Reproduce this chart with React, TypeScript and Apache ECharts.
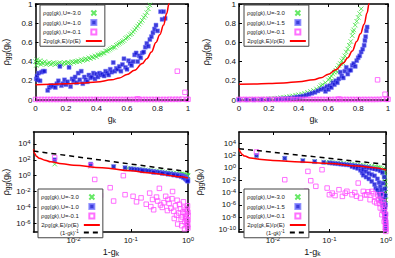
import React, { useEffect, useRef } from "react";
import * as echarts from "echarts";

const FONT = "'Liberation Sans', Arial, sans-serif";

// ---------- tick values ----------
const linTicks = [0, 0.2, 0.4, 0.6, 0.8, 1];
const logXTicks = [-2, -1, 0];
const logY3Ticks = [-6, -4, -2, 0, 2, 4];
const logY4Ticks = [-10, -8, -6, -4, -2, 0, 2, 4];

// ---------- legend U values ----------
const uLeft = ["-3.0", "-1.0", "-0.1"];
const uRight = ["-3.0", "-1.5", "-0.1"];

// ---------- panel 1 (g_k, rho) ----------
const p1Green = [[0.0,0.40],[0.005,0.36],[0.01,0.42],[0.015,0.38],[0.02,0.39],[0.03,0.41],[0.035,0.37],[0.04,0.39],[0.05,0.38],[0.06,0.40],[0.07,0.37],[0.08,0.38],[0.09,0.39],[0.10,0.37],[0.11,0.38],[0.12,0.39],[0.13,0.37],[0.14,0.38],[0.15,0.38],[0.16,0.39],[0.17,0.37],[0.18,0.38],[0.19,0.39],[0.20,0.38],[0.21,0.39],[0.22,0.39],[0.23,0.38],[0.24,0.40],[0.25,0.39],[0.26,0.40],[0.27,0.40],[0.28,0.41],[0.29,0.40],[0.30,0.42],[0.31,0.41],[0.32,0.42],[0.33,0.43],[0.34,0.42],[0.35,0.44],[0.36,0.43],[0.37,0.45],[0.38,0.44],[0.39,0.46],[0.40,0.45],[0.41,0.47],[0.42,0.47],[0.43,0.48],[0.44,0.49],[0.45,0.49],[0.46,0.51],[0.47,0.51],[0.48,0.52],[0.49,0.53],[0.50,0.54],[0.51,0.55],[0.52,0.55],[0.53,0.57],[0.54,0.58],[0.55,0.59],[0.56,0.60],[0.57,0.61],[0.58,0.62],[0.59,0.64],[0.60,0.65],[0.61,0.66],[0.62,0.68],[0.63,0.69],[0.64,0.71],[0.65,0.73],[0.66,0.75],[0.67,0.77],[0.68,0.79],[0.69,0.81],[0.70,0.83],[0.71,0.86],[0.72,0.88],[0.73,0.91],[0.74,0.95],[0.75,0.99]];
const p1Blue = [[0.005,0.22],[0.01,0.25],[0.015,0.21],[0.02,0.28],[0.03,0.20],[0.04,0.29],[0.05,0.30],[0.06,0.30],[0.08,0.10],[0.09,0.13],[0.10,0.15],[0.11,0.14],[0.12,0.15],[0.13,0.13],[0.14,0.17],[0.15,0.20],[0.16,0.35],[0.17,0.15],[0.18,0.17],[0.19,0.21],[0.20,0.16],[0.21,0.19],[0.22,0.34],[0.23,0.14],[0.24,0.22],[0.25,0.20],[0.26,0.24],[0.27,0.18],[0.28,0.28],[0.29,0.21],[0.30,0.30],[0.31,0.17],[0.32,0.24],[0.33,0.21],[0.34,0.19],[0.35,0.26],[0.36,0.23],[0.37,0.24],[0.38,0.28],[0.39,0.22],[0.40,0.27],[0.41,0.24],[0.42,0.28],[0.43,0.26],[0.44,0.27],[0.45,0.25],[0.46,0.30],[0.47,0.28],[0.48,0.26],[0.49,0.32],[0.50,0.29],[0.51,0.39],[0.52,0.30],[0.53,0.33],[0.54,0.32],[0.55,0.35],[0.56,0.30],[0.57,0.37],[0.58,0.43],[0.59,0.34],[0.60,0.32],[0.61,0.41],[0.62,0.38],[0.63,0.36],[0.64,0.40],[0.65,0.47],[0.66,0.49],[0.67,0.40],[0.68,0.46],[0.69,0.44],[0.70,0.49],[0.71,0.50],[0.72,0.55],[0.73,0.59],[0.74,0.56],[0.75,0.63],[0.76,0.66],[0.77,0.70],[0.78,0.74],[0.79,0.78],[0.80,0.72],[0.82,0.92],[0.83,0.84],[0.84,0.92],[0.85,0.85]];
const p1Magenta = [[0.00,0.006],[0.02,0.005],[0.04,0.006],[0.06,0.005],[0.08,0.006],[0.10,0.005],[0.12,0.006],[0.14,0.005],[0.16,0.006],[0.18,0.005],[0.20,0.006],[0.22,0.005],[0.24,0.006],[0.26,0.005],[0.28,0.006],[0.30,0.005],[0.32,0.006],[0.34,0.005],[0.36,0.006],[0.38,0.005],[0.40,0.006],[0.42,0.005],[0.44,0.006],[0.46,0.005],[0.48,0.006],[0.50,0.005],[0.52,0.006],[0.54,0.005],[0.56,0.006],[0.58,0.005],[0.60,0.006],[0.62,0.005],[0.64,0.006],[0.66,0.005],[0.67,0.012],[0.68,0.006],[0.70,0.005],[0.72,0.006],[0.74,0.005],[0.76,0.006],[0.78,0.005],[0.80,0.006],[0.82,0.005],[0.84,0.006],[0.86,0.005],[0.88,0.007],[0.90,0.006],[0.92,0.007],[0.93,0.30],[0.94,0.006],[0.96,0.008],[0.98,0.08],[0.99,0.006],[1.0,0.007]];
const p1Red = [[0,0.16],[0.1,0.163],[0.2,0.168],[0.3,0.176],[0.4,0.188],[0.5,0.21],[0.55,0.23],[0.6,0.265],[0.65,0.31],[0.7,0.38],[0.73,0.43],[0.76,0.5],[0.79,0.6],[0.815,0.68],[0.84,0.78],[0.86,0.9],[0.875,1.0],[0.885,1.1]];

// ---------- panel 2 (g_k, rho) ----------
const p2Green = [[0.00,0.002],[0.03,0.003],[0.06,0.004],[0.09,0.005],[0.12,0.006],[0.15,0.008],[0.18,0.010],[0.20,0.012],[0.22,0.014],[0.24,0.017],[0.26,0.020],[0.28,0.024],[0.30,0.028],[0.32,0.032],[0.34,0.037],[0.36,0.042],[0.38,0.050],[0.40,0.055],[0.42,0.062],[0.44,0.070],[0.46,0.080],[0.48,0.090],[0.50,0.10],[0.52,0.115],[0.54,0.13],[0.55,0.15],[0.56,0.16],[0.58,0.18],[0.60,0.21],[0.61,0.23],[0.62,0.25],[0.62,0.20],[0.63,0.27],[0.64,0.29],[0.65,0.31],[0.66,0.33],[0.66,0.29],[0.67,0.36],[0.68,0.38],[0.69,0.41],[0.70,0.43],[0.70,0.38],[0.71,0.46],[0.72,0.50],[0.73,0.53],[0.74,0.57],[0.75,0.61],[0.76,0.67],[0.765,0.71],[0.77,0.73],[0.78,0.78],[0.79,0.82],[0.80,0.86],[0.81,0.90],[0.82,0.95]];
const p2Blue = [[0.00,0.001],[0.05,0.002],[0.10,0.003],[0.15,0.004],[0.20,0.006],[0.25,0.009],[0.28,0.012],[0.31,0.015],[0.34,0.020],[0.37,0.025],[0.39,0.030],[0.41,0.035],[0.43,0.040],[0.45,0.050],[0.47,0.060],[0.49,0.070],[0.51,0.080],[0.53,0.095],[0.55,0.11],[0.57,0.12],[0.58,0.09],[0.59,0.14],[0.60,0.11],[0.61,0.15],[0.62,0.13],[0.63,0.18],[0.64,0.16],[0.65,0.20],[0.66,0.18],[0.67,0.22],[0.68,0.29],[0.69,0.25],[0.70,0.23],[0.71,0.30],[0.72,0.34],[0.73,0.27],[0.74,0.31],[0.75,0.31],[0.76,0.36],[0.77,0.38],[0.78,0.35],[0.79,0.41],[0.80,0.44],[0.81,0.46],[0.82,0.50],[0.83,0.53],[0.84,0.57],[0.845,0.62],[0.85,0.66],[0.855,0.72],[0.86,0.76]];
const p2Magenta = [[0.00,0.006],[0.02,0.005],[0.04,0.006],[0.06,0.005],[0.08,0.006],[0.10,0.005],[0.12,0.006],[0.14,0.005],[0.16,0.006],[0.18,0.005],[0.20,0.006],[0.22,0.005],[0.24,0.006],[0.26,0.005],[0.28,0.006],[0.30,0.005],[0.32,0.006],[0.34,0.005],[0.36,0.006],[0.38,0.005],[0.40,0.006],[0.42,0.005],[0.44,0.006],[0.46,0.005],[0.48,0.006],[0.50,0.005],[0.52,0.006],[0.54,0.005],[0.56,0.006],[0.58,0.005],[0.60,0.006],[0.62,0.005],[0.64,0.006],[0.66,0.005],[0.67,0.010],[0.68,0.006],[0.70,0.005],[0.72,0.006],[0.74,0.005],[0.76,0.006],[0.78,0.005],[0.80,0.006],[0.82,0.005],[0.84,0.006],[0.86,0.005],[0.88,0.006],[0.90,0.005],[0.92,0.006],[0.93,0.21],[0.94,0.006],[0.96,0.007],[0.98,0.06],[0.99,0.006],[1.0,0.007]];
const p2Red = [[0,0.165],[0.1,0.167],[0.2,0.171],[0.3,0.178],[0.4,0.19],[0.5,0.212],[0.55,0.232],[0.6,0.268],[0.65,0.315],[0.7,0.385],[0.73,0.44],[0.76,0.51],[0.79,0.61],[0.815,0.69],[0.84,0.79],[0.86,0.91],[0.872,1.0],[0.882,1.1]];

// ---------- panel 3 (log10(1-g_k), log10 rho) ----------
const p3Green = [[-2.33,1.45],[-1.70,1.2],[-1.30,1.1],[-1.1,0.97],[-1.05,0.94],[-1.0,0.9],[-0.95,0.87],[-0.9,0.84],[-0.85,0.8],[-0.8,0.77],[-0.75,0.73],[-0.7,0.69],[-0.65,0.65],[-0.6,0.61],[-0.55,0.57],[-0.5,0.53],[-0.45,0.49],[-0.4,0.45],[-0.35,0.41],[-0.3,0.37],[-0.25,0.33],[-0.2,0.29],[-0.15,0.24],[-0.12,0.21],[-0.1,0.19],[-0.08,0.16],[-0.06,0.13],[-0.04,0.1],[-0.03,0.07],[-0.02,0.05],[-0.01,0.02],[-0.005,0.0],[0,-0.05],[-0.7,0.62],[-0.5,0.46],[-0.3,0.3],[-0.15,0.17],[-0.05,0.05]];
const p3Blue = [[-2.33,2.0],[-1.70,1.45],[-1.30,1.15],[-1.1,1.0],[-1.0,0.86],[-0.95,0.82],[-0.9,0.78],[-0.85,0.74],[-0.8,0.7],[-0.75,0.66],[-0.7,0.6],[-0.65,0.56],[-0.6,0.52],[-0.55,0.47],[-0.5,0.42],[-0.45,0.38],[-0.4,0.33],[-0.35,0.28],[-0.3,0.23],[-0.25,0.18],[-0.2,0.13],[-0.15,0.07],[-0.12,0.02],[-0.1,-0.02],[-0.08,-0.08],[-0.06,-0.15],[-0.05,-0.2],[-0.04,-0.26],[-0.03,-0.33],[-0.02,-0.42],[-0.01,-0.52],[0,-0.62],[-0.8,0.6],[-0.6,0.4],[-0.45,0.28],[-0.35,0.18],[-0.25,0.07],[-0.18,-0.02],[-0.12,-0.12],[-0.08,-0.25],[-0.05,-0.38],[-0.03,-0.5],[-0.015,-0.62],[-0.005,-0.7]];
const p3Magenta = [[-2.33,2.28],[-1.70,1.28],[-1.63,-0.48],[-1.13,0.0],[-1.53,-2.48],[-1.36,-1.52],[-1.30,-3.2],[-1.10,-2.4],[-0.96,-2.6],[-0.90,-3.3],[-0.82,-2.8],[-0.73,-3.6],[-0.67,-2.2],[-0.65,-3.9],[-0.62,-3.0],[-0.53,-3.2],[-0.50,-1.6],[-0.45,-4.0],[-0.39,-2.6],[-0.36,-4.4],[-0.33,-3.5],[-0.27,-2.0],[-0.25,-4.5],[-0.22,-3.8],[-0.19,-3.1],[-0.16,-4.7],[-0.13,-4.2],[-0.10,-5.2],[-0.07,-4.0],[-0.06,-5.8],[-0.05,-4.8],[-0.03,-5.4],[-0.02,-6.0],[-0.01,-4.4],[-0.005,-6.2],[0,-5.0],[0,-5.6],[-0.42,-3.4],[-0.30,-4.1],[-0.28,-2.9],[-0.20,-5.0],[-0.15,-3.6],[-0.12,-5.5],[-0.09,-4.6],[-0.08,-3.3],[-0.04,-5.1],[-0.03,-4.2],[-0.015,-5.7],[-0.01,-6.4],[-0.008,-3.8],[-0.003,-4.6],[-0.002,-6.6],[-0.6,-4.3],[-0.55,-2.7],[-0.48,-3.7],[-0.35,-3.0],[-0.24,-5.4],[-0.18,-6.1],[-0.11,-6.3],[-0.06,-6.7]];
const p3Red = [[-2.7,3.3],[-2.68,2.8],[-2.65,2.45],[-2.6,2.2],[-2.5,1.95],[-2.4,1.75],[-2.2,1.5],[-2.0,1.3],[-1.5,1.0],[-1.0,0.62],[-0.7,0.38],[-0.5,0.2],[-0.3,0.0],[-0.15,-0.15],[0,-0.3]];
const p3Dash = [[-2.7,3.1],[0,0.5]];

// ---------- panel 4 (log10(1-g_k), log10 rho) ----------
const p4Green = [[-2.29,1.8],[-1.79,1.5],[-1.47,1.2],[-1.26,1.05],[-1.1,0.95],[-1.05,0.92],[-1.0,0.9],[-0.95,0.86],[-0.9,0.82],[-0.85,0.78],[-0.8,0.74],[-0.75,0.7],[-0.7,0.66],[-0.65,0.62],[-0.6,0.57],[-0.55,0.53],[-0.5,0.48],[-0.45,0.44],[-0.4,0.39],[-0.35,0.34],[-0.3,0.29],[-0.25,0.24],[-0.2,0.18],[-0.17,0.13],[-0.14,0.08],[-0.12,0.03],[-0.1,-0.03],[-0.08,-0.12],[-0.06,-0.25],[-0.05,-0.4],[-0.04,-0.6],[-0.03,-0.9],[-0.025,-1.3],[-0.02,-1.7],[-0.015,-2.3],[-0.012,-2.9],[-0.01,-3.4],[-0.007,-4.0],[-0.005,-4.6],[-0.003,-5.2]];
const p4Blue = [[-2.29,2.0],[-1.79,1.55],[-1.47,1.15],[-1.26,1.0],[-1.1,0.88],[-1.0,0.8],[-0.95,0.76],[-0.9,0.7],[-0.85,0.66],[-0.8,0.6],[-0.75,0.56],[-0.7,0.5],[-0.65,0.46],[-0.6,0.4],[-0.6,0.2],[-0.55,0.34],[-0.55,0.05],[-0.5,0.28],[-0.5,-0.1],[-0.45,0.22],[-0.45,-0.4],[-0.42,-0.8],[-0.4,0.15],[-0.4,-0.3],[-0.4,-1.2],[-0.35,0.08],[-0.35,-0.6],[-0.35,-1.5],[-0.3,0.0],[-0.3,-0.9],[-0.3,-1.8],[-0.25,-0.1],[-0.25,-1.1],[-0.25,-2.2],[-0.2,-0.2],[-0.2,-1.3],[-0.2,-2.7],[-0.18,-3.3],[-0.15,-0.3],[-0.15,-1.8],[-0.15,-3.6],[-0.12,-2.4],[-0.12,-4.1],[-0.1,-0.5],[-0.1,-3.0],[-0.1,-4.7],[-0.08,-3.6],[-0.08,-5.4],[-0.06,-0.8],[-0.06,-4.2],[-0.06,-6.0],[-0.05,-2.5],[-0.04,-5.0],[-0.04,-6.7],[-0.03,-1.5],[-0.03,-5.8],[-0.03,-7.3],[-0.02,-3.4],[-0.02,-6.6],[-0.02,-8.0],[-0.012,-4.5],[-0.012,-7.5],[-0.01,-8.6],[-0.007,-6.0],[-0.006,-9.0],[-0.004,-7.6],[-0.003,-9.5],[-0.002,-8.4],[-0.001,-10.0],[0,-9.2]];
const p4Magenta = [[-2.29,2.56],[-1.79,-1.93],[-1.38,-0.58],[-1.13,-0.31],[-1.33,-2.09],[-1.04,-3.28],[-1.24,-3.0],[-1.41,-3.8],[-0.95,-4.1],[-0.83,-3.55],[-0.77,-4.63],[-0.69,-3.8],[-0.60,-4.36],[-0.49,-2.47],[-0.45,-4.9],[-0.40,-3.82],[-0.34,-4.36],[-0.28,-5.17],[-0.25,-3.82],[-0.19,-4.63],[-0.16,-5.7],[-0.13,-5.17],[-0.10,-6.5],[-0.08,-4.36],[-0.07,-7.6],[-0.05,-6.0],[-0.03,-8.7],[-0.03,-7.1],[-0.01,-9.8],[0,-10.3],[-1.0,-4.36],[-0.90,-4.5],[-0.72,-4.1],[-0.55,-4.0],[-0.52,-4.6],[-0.37,-4.4],[-0.31,-3.9],[-0.22,-4.2],[-0.2,-5.5],[-0.14,-4.4],[-0.11,-5.8],[-0.09,-5.3],[-0.06,-6.8],[-0.04,-5.5],[-0.02,-7.8],[-0.02,-6.4],[-0.012,-8.3],[-0.008,-9.1],[-0.005,-7.5],[-0.003,-9.5],[-0.001,-8.8],[0,-9.9]];
const p4Red = [[-2.6,3.2],[-2.58,2.6],[-2.55,2.2],[-2.5,1.9],[-2.4,1.6],[-2.2,1.35],[-2.0,1.2],[-1.5,0.95],[-1.0,0.7],[-0.5,0.3],[-0.25,0.05],[0,-0.35]];
const p4Dash = [[-2.6,3.1],[0,0.55]];

// ---------- styles ----------
const X_PATH = "path://M0,0L10,10M10,0L0,10";
const SQ_PATH = "path://M0,0H10V10H0Z";
const GREEN = "#3ee23e";
const BLUE = "#0c0cd0";
const BLUE_EDGE = "#7a7aff";
const MAGENTA = "#ff4cff";
const TXT = "#111";

const subRich = {
  b: { fontSize: 9, lineHeight: 10, color: TXT, fontFamily: FONT },
  s: { fontSize: 6.5, lineHeight: 6, verticalAlign: "bottom", color: TXT, fontFamily: FONT },
};
const legRich = {
  b: { fontSize: 6, lineHeight: 6.5, color: "#222", fontFamily: FONT },
  s: { fontSize: 4.5, lineHeight: 4, verticalAlign: "bottom", color: "#222", fontFamily: FONT },
  p: { fontSize: 4.5, lineHeight: 4, verticalAlign: "top", color: "#222", fontFamily: FONT },
};
const supRich = {
  b: { fontSize: 8, lineHeight: 9, color: TXT, fontFamily: FONT },
  p: { fontSize: 6, lineHeight: 4, verticalAlign: "top", color: TXT, fontFamily: FONT },
};

const rhoName = "{b|ρ}{s|gg}{b|(g}{s|k}{b|)}";

function legendText(key: string, us: string[]): string {
  if (key === "g") return `{b|ρ}{s|gg}{b|(g}{s|k}{b|),U=${us[0]}}`;
  if (key === "bl") return `{b|ρ}{s|gg}{b|(g}{s|k}{b|),U=${us[1]}}`;
  if (key === "m") return `{b|ρ}{s|gg}{b|(g}{s|k}{b|),U=${us[2]}}`;
  if (key === "r") return "{b|2ρ}{s|g}{b|(g}{s|k}{b|,E)/ρ(E)}";
  return "{b|(1-g}{s|k}{b|)}{p|-1}";
}

const grids = [
  { left: 35, top: 4, width: 153, height: 96 },
  { left: 239, top: 4, width: 149, height: 96 },
  { left: 33, top: 132, width: 155, height: 101 },
  { left: 239, top: 132, width: 149, height: 101 },
];

const axisLine = { show: true, onZero: false, lineStyle: { color: "#000", width: 1.5 } };
function tick(vals: number[]) {
  return { show: true, inside: true, length: 3, customValues: vals, lineStyle: { color: "#000", width: 1 } };
}
const linFmt = (v: number) => String(Number(v.toFixed(1)));
const logFmt = (v: number) => `{b|10}{p|${Math.round(v)}}`;

function xPair(gi: number, isLog: boolean, min: number, max: number, vals: number[], name: string, gap: number) {
  const label = isLog
    ? { customValues: vals, formatter: logFmt, rich: supRich, margin: 4 }
    : { customValues: vals, formatter: linFmt, fontSize: 8, color: TXT, fontFamily: FONT, margin: 4 };
  return [
    { type: "value", gridIndex: gi, position: "bottom", min, max, axisLine, axisTick: tick(vals), axisLabel: label, splitLine: { show: false },
      name, nameLocation: "middle", nameGap: gap, nameTextStyle: { rich: subRich } },
    { type: "value", gridIndex: gi, position: "top", min, max, axisLine, axisTick: tick(vals), axisLabel: { show: false }, splitLine: { show: false } },
  ];
}
function yPair(gi: number, isLog: boolean, min: number, max: number, vals: number[], gap: number) {
  const label = isLog
    ? { customValues: vals, formatter: logFmt, rich: supRich, margin: 3 }
    : { customValues: vals, formatter: linFmt, fontSize: 8, color: TXT, fontFamily: FONT, margin: 3 };
  return [
    { type: "value", gridIndex: gi, position: "left", min, max, axisLine, axisTick: tick(vals), axisLabel: label, splitLine: { show: false },
      name: rhoName, nameLocation: "middle", nameGap: gap, nameRotate: 90, nameTextStyle: { rich: subRich } },
    { type: "value", gridIndex: gi, position: "right", min, max, axisLine, axisTick: tick(vals), axisLabel: { show: false }, splitLine: { show: false } },
  ];
}

function panelSeries(gi: number, green: number[][], blue: number[][], mag: number[][], red: number[][], dash?: number[][]) {
  const ax = { xAxisIndex: 2 * gi, yAxisIndex: 2 * gi };
  const s: any[] = [
    { ...ax, name: `p${gi}_g`, type: "scatter", data: green, symbol: X_PATH, symbolSize: 4.5, symbolKeepAspect: true,
      itemStyle: { color: "none", borderColor: GREEN, borderWidth: 1 }, emphasis: { disabled: true } },
    { ...ax, name: `p${gi}_bl`, type: "scatter", data: blue, symbol: SQ_PATH, symbolSize: 4, symbolKeepAspect: true,
      itemStyle: { color: BLUE, borderColor: BLUE_EDGE, borderWidth: 0.6 }, emphasis: { disabled: true } },
    { ...ax, name: `p${gi}_m`, type: "scatter", data: mag, symbol: SQ_PATH, symbolSize: 4.5, symbolKeepAspect: true,
      itemStyle: { color: "none", borderColor: MAGENTA, borderWidth: 1 }, emphasis: { disabled: true } },
    { ...ax, name: `p${gi}_r`, type: "line", data: red, symbol: "none", smooth: 0.4, smoothMonotone: "x",
      lineStyle: { color: "#ff0000", width: 1.5 }, itemStyle: { color: "transparent", borderColor: "transparent" }, emphasis: { disabled: true } },
  ];
  if (dash) {
    s.push({ ...ax, name: `p${gi}_d`, type: "line", data: dash, symbol: "none",
      lineStyle: { color: "#000", width: 1.5, type: [5, 4] }, itemStyle: { color: "transparent", borderColor: "transparent" }, emphasis: { disabled: true } });
  }
  return s;
}

function legendFor(gi: number, left: number, top: number, keys: string[], us: string[], gap: number, pad: number[]) {
  return {
    orient: "vertical", align: "right", left, top, selectedMode: false, symbolKeepAspect: true,
    data: keys.map((k) => `p${gi}_${k}`),
    itemWidth: 16, itemHeight: 5, itemGap: gap, padding: pad,
    borderColor: "#444", borderWidth: 1, backgroundColor: "#fff",
    textStyle: { fontFamily: FONT, color: "#222", fontSize: 6, rich: legRich },
    formatter: (n: string) => legendText(n.split("_")[1], us),
  };
}

export default function App() {
  const ref = useRef<HTMLDivElement>(null);
  useEffect(() => {
    if (!ref.current) return;
    const chart = echarts.init(ref.current, undefined, { renderer: "svg" });
    const option: any = {
      animation: false,
      textStyle: { fontFamily: FONT },
      grid: grids,
      xAxis: [
        ...xPair(0, false, 0, 1, linTicks, "{b|g}{s|k}", 14),
        ...xPair(1, false, 0, 1, linTicks, "{b|g}{s|k}", 14),
        ...xPair(2, true, -2.7, 0, logXTicks, "{b|1-g}{s|k}", 15),
        ...xPair(3, true, -2.6, 0, logXTicks, "{b|1-g}{s|k}", 15),
      ],
      yAxis: [
        ...yPair(0, false, 0, 1, linTicks, 25),
        ...yPair(1, false, 0, 1, linTicks, 28),
        ...yPair(2, true, -7.1, 5.5, logY3Ticks, 23),
        ...yPair(3, true, -10.4, 5.8, logY4Ticks, 35),
      ],
      legend: [
        legendFor(0, 40, 5, ["g", "bl", "m", "r"], uLeft, 1, [3, 2, 2, 3]),
        legendFor(1, 244, 5, ["g", "bl", "m", "r"], uRight, 1, [3, 2, 2, 3]),
        legendFor(2, 38, 189, ["g", "bl", "m", "r", "d"], uLeft, 1, [3, 2, 2, 3]),
        legendFor(3, 244, 189, ["g", "bl", "m", "r", "d"], uRight, 1, [3, 2, 2, 3]),
      ],
      series: [
        ...panelSeries(0, p1Green, p1Blue, p1Magenta, p1Red),
        ...panelSeries(1, p2Green, p2Blue, p2Magenta, p2Red),
        ...panelSeries(2, p3Green, p3Blue, p3Magenta, p3Red, p3Dash),
        ...panelSeries(3, p4Green, p4Blue, p4Magenta, p4Red, p4Dash),
      ],
    };
    chart.setOption(option);
    return () => chart.dispose();
  }, []);
  return <div ref={ref} style={{ position: "absolute", left: 0, top: 0, width: 395, height: 258, background: "#fff" }} />;
}
